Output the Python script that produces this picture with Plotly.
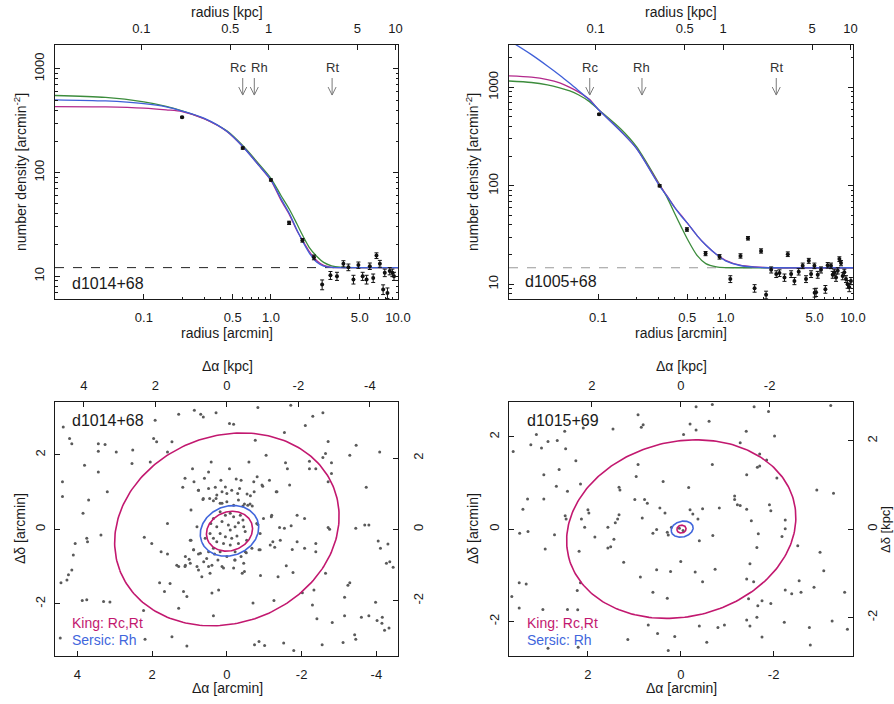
import numpy as np
import plotly.graph_objects as go

W, H = 894, 704
FONT = "Liberation Sans, Arial, Helvetica, sans-serif"
INK = "#1a1a1a"

# ---------------- data: radial profiles (radius arcmin, density arcmin^-2, error) ----------------
tl_name = "d1014+68"
tl_profile = [(0.20, 342, 6), (0.60, 172, 4), (1.00, 84.8, 2), (1.39, 32.7, 1.2), (1.77, 22.2, 0.9),
              (2.18, 15.2, 0.8), (2.53, 8.3, 0.9), (2.94, 10.2, 0.9), (3.31, 10.0, 0.9), (3.72, 13.2, 0.9),
              (4.07, 12.2, 0.9), (4.46, 9.3, 0.9), (4.88, 12.8, 0.9), (5.27, 10.0, 0.9), (5.66, 9.3, 0.9),
              (6.00, 12.5, 0.9), (6.38, 9.6, 0.9), (6.77, 15.8, 1.0), (7.20, 13.2, 1.0), (7.64, 7.45, 0.8),
              (7.87, 10.8, 0.9), (8.26, 6.9, 0.8), (8.61, 11.2, 0.9), (9.03, 10.8, 0.9), (9.30, 10.0, 0.9)]
tl_bg = 12.1
tl_curve_r = [0.02, 0.05, 0.1, 0.15, 0.2, 0.3, 0.45, 0.6, 0.8, 1.0, 1.2, 1.4, 1.6, 1.8, 2.0, 2.3, 2.6, 3.0, 3.5, 5.0, 10.0]
tl_king = [433, 430, 418, 402, 387, 329, 249, 178, 118, 84, 54, 39, 27.6, 21.5, 17.4, 14.1, 12.7, 12.15, 12.1, 12.1, 12.1]
tl_sersic = [503, 490, 462, 430, 392, 333, 250, 178, 118, 85, 56, 40, 28, 21, 16.8, 13.6, 12.5, 12.15, 12.1, 12.1, 12.1]
tl_plummer = [553, 530, 480, 435, 394, 330, 252, 182, 122, 88, 60, 44, 32, 24, 19, 15.5, 13.6, 12.6, 12.2, 12.1, 12.1]
# (label, radius of the arrow, radius where the label is centred)
tl_marks = [("Rc", 0.60, 0.55), ("Rh", 0.74, 0.82), ("Rt", 3.03, 3.03)]

tr_name = "d1005+68"
tr_profile = [(0.1018, 533, 10), (0.304, 100, 2.5), (0.498, 36, 1.5), (0.697, 20.5, 1.0), (0.897, 19.0, 1.0),
              (1.09, 11.3, 0.9), (1.31, 19.4, 1.0), (1.50, 29.3, 1.2), (1.69, 9.1, 0.8), (1.90, 21.8, 1.1),
              (2.08, 7.8, 0.7), (2.28, 14.0, 1.0), (2.50, 12.7, 1.0), (2.65, 13.0, 1.0), (2.90, 11.7, 1.0),
              (3.08, 20.2, 1.1), (3.27, 12.7, 1.0), (3.47, 10.8, 0.9), (3.75, 13.4, 1.0), (4.03, 15.4, 1.0),
              (4.28, 11.3, 0.9), (4.50, 17.3, 1.0), (4.69, 12.7, 1.0), (4.98, 15.4, 1.0), (5.00, 8.2, 0.8),
              (5.13, 8.3, 0.8), (5.29, 12.5, 1.0), (5.61, 14.0, 1.0), (6.07, 8.9, 0.8), (6.33, 15.6, 1.0),
              (6.72, 15.4, 1.0), (6.93, 12.5, 1.0), (7.14, 13.2, 1.0), (7.36, 11.7, 1.0), (7.59, 13.7, 1.0),
              (7.82, 18.0, 1.0), (8.05, 16.4, 1.0), (8.30, 12.1, 1.0), (8.55, 13.2, 1.0), (8.81, 11.3, 0.9),
              (9.07, 10.0, 0.9), (9.35, 9.3, 0.9), (9.63, 10.8, 0.9)]
tr_bg = 14.7
tr_curve_r = [0.02, 0.03, 0.04, 0.05, 0.06, 0.07, 0.085, 0.1, 0.15, 0.2, 0.3, 0.35, 0.4, 0.45, 0.5, 0.6, 0.7, 0.85, 1.0, 1.3, 1.7, 2.5, 10.0]
tr_king = [1310, 1270, 1200, 1110, 1000, 900, 760, 600, 360, 240, 104, 78, 60, 50, 42, 31, 25, 20, 17.5, 15.6, 15.0, 14.7, 14.7]
tr_sersic = [3000, 2150, 1650, 1330, 1100, 930, 750, 600, 360, 240, 102, 77, 60, 49, 42, 31, 25, 20, 17.3, 15.5, 14.9, 14.7, 14.7]
tr_plummer = [1160, 1120, 1060, 990, 920, 840, 720, 600, 380, 250, 106, 75, 52, 38, 29, 19.5, 16.2, 15.0, 14.75, 14.7, 14.7, 14.7, 14.7]
tr_marks = [("Rc", 0.086, 0.086), ("Rh", 0.221, 0.221), ("Rt", 2.50, 2.50)]

KPC_PER_ARCMIN = 1.045

# ---------------- data: star maps (delta alpha, delta delta in arcmin) ----------------
bl_name = "d1014+68"
bl_stars = [
    (1.92, 2.93), (1.29, 3.09), (0.87, 3.20), (0.70, 3.09), (0.63, 3.02), (0.29, 3.13), (4.38, 2.75), (4.21, 2.44),
    (4.15, 2.30), (3.44, 2.30), (3.26, 2.28), (3.44, 2.10), (2.96, 2.08), (2.52, 2.13), (1.96, 2.44), (1.88, 2.35),
    (4.40, 1.28), (4.40, 0.88), (3.81, 1.72), (3.44, 1.54), (3.20, 1.01), (2.54, 1.77), (2.05, 1.81), (1.59, 2.08),
    (1.12, 1.37), (1.18, 1.13), (0.92, 1.63), (0.88, 1.28), (0.76, 1.05), (0.60, 1.37), (0.49, 1.54), (0.42, 1.81),
    (0.31, 1.13), (0.16, 1.32), (0.04, 1.14), (0.64, 0.80), (0.46, 0.83), (0.29, 0.83), (0.13, 0.70), (0.96, 0.52),
    (1.59, 0.16), (2.21, -0.21), (2.01, -0.38), (4.06, -0.38), (3.75, -0.24), (3.73, -0.33), (3.37, -0.15),
    (4.11, -0.69), (4.15, -1.09), (4.24, -1.22), (4.44, -1.43), (4.28, -1.36), (1.76, -0.60), (1.59, -0.66),
    (1.34, -0.96), (1.29, -1.00), (1.12, -1.00), (1.01, -0.80), (0.96, -0.29), (0.89, -0.55), (0.76, -0.66),
    (0.76, -1.09), (0.67, -1.27), (0.54, -0.78), (0.49, -1.00), (0.45, -1.18), (0.33, -0.66), (0.24, -0.82),
    (0.13, -1.00), (1.80, -1.43), (1.67, -1.67), (1.52, -1.45), (1.16, -1.67), (1.07, -1.80), (0.40, -1.71),
    (0.22, -1.63), (3.87, -1.91), (3.75, -1.89), (3.30, -1.94), (3.13, -1.95), (2.23, -2.18), (1.29, -2.12),
    (0.36, -2.32), (2.19, -2.95), (1.47, -2.88), (1.07, -3.13), (4.46, -2.92), (3.85, 0.43), (3.70, 0.79),
    (1.47, 2.35),
    (-0.83, 3.27), (-1.71, 3.33), (-2.57, 3.13), (-2.30, 3.04), (-2.10, 2.79), (-0.07, 2.84), (-0.18, 2.82),
    (-1.54, 2.60), (-0.76, 2.39), (-2.71, 2.36), (-3.46, 2.26), (-4.09, 2.08), (-3.29, 1.99), (-2.64, 2.04),
    (-2.57, 1.93), (-2.80, 1.79), (-1.05, 1.99), (-1.57, 1.79), (-1.62, 1.63), (-2.21, 1.83), (-2.21, 1.63),
    (-2.38, 1.63), (-2.80, 1.50), (-2.71, 1.28), (-0.59, 1.81), (-0.07, 1.63), (-0.81, 1.41), (-0.72, 1.28),
    (-1.14, 1.32), (-0.38, 1.32), (-0.25, 1.35), (-0.96, 1.16), (-1.32, 1.01), (-1.68, 1.19), (-3.73, 1.13),
    (-0.63, 0.90), (-0.29, 0.96), (-0.43, 0.63), (-0.56, 0.65), (-0.68, 0.63), (-0.98, 0.29), (-1.19, 0.34),
    (-1.88, 0.38), (-2.08, 0.29), (-0.83, 0.13), (-1.41, 0.05), (-1.54, 0.03), (-1.72, 0.10), (-2.71, 0.05),
    (-2.75, 0.00), (-3.45, 0.03), (-3.69, 0.12), (-3.80, 0.12), (-1.23, -0.33), (-1.43, -0.29), (-1.28, -0.48),
    (-1.88, -0.33), (-2.08, -0.51), (-1.75, -0.54), (-2.38, -0.38), (-2.38, -0.60), (-0.86, -0.55), (-0.52, -0.63),
    (-0.38, -0.73), (-0.21, -0.82), (-0.47, -1.13), (-0.41, -1.18), (-0.90, -1.24), (-1.37, -1.27), (-1.59, -0.98),
    (-1.77, -1.16), (-2.64, -1.18), (-4.05, -0.31), (-4.11, -0.51), (-4.31, -0.39), (-4.36, -0.87), (-4.27, -0.91),
    (-4.45, -1.02), (-3.29, -1.43), (-3.24, -1.50), (-2.02, -1.70), (-2.33, -1.63), (-3.15, -1.82), (-1.26, -1.91),
    (-0.70, -1.98), (-2.29, -2.03), (-3.98, -1.96), (-3.15, -2.32), (-3.60, -2.36), (-3.80, -2.32), (-4.02, -2.45),
    (-4.16, -2.36), (-4.15, -2.52), (-4.34, -2.65), (-4.22, -2.71), (-2.41, -2.40), (-2.82, -2.50), (-3.42, -2.83),
    (-3.45, -2.95), (-3.11, -3.04), (-2.55, -3.10), (-1.52, -3.05), (-1.79, -3.25), (-0.86, -3.01), (-0.74, -3.10),
    (-1.01, -3.12),
    (0.76, 1.05), (0.49, 1.10), (0.27, 0.92), (0.13, 1.01), (0.00, 0.96), (-0.13, 1.05), (-0.34, 1.10),
    (-0.54, 0.95), (-0.73, 1.01), (-0.94, 1.19), (-1.34, 1.01), (0.63, 0.83), (0.36, 0.77), (0.18, 0.70),
    (0.00, 0.74), (-0.18, 0.65), (-0.31, 0.79), (-0.47, 0.68), (-0.62, 0.68), (0.18, 0.47), (0.04, 0.38),
    (-0.09, 0.43), (-0.18, 0.34), (-0.36, 0.38), (-0.43, 0.25), (0.36, 0.29), (0.43, 0.16), (0.27, 0.07),
    (0.13, 0.21), (-0.04, 0.12), (-0.09, -0.02), (-0.22, 0.07), (-0.31, 0.18), (-0.45, 0.07), (-0.49, -0.06),
    (0.18, -0.11), (0.04, -0.20), (-0.13, -0.24), (-0.27, -0.18), (0.36, -0.24), (0.45, -0.11), (0.27, -0.33),
    (0.09, -0.38), (-0.09, -0.42), (-0.31, -0.38), (-0.53, -0.29), (-0.80, 0.16), (-0.89, -0.11), (0.58, -0.24),
    (0.80, 0.07), (0.98, -0.29), (0.89, -0.55), (0.71, -0.64), (0.49, -0.60), (0.36, -0.51), (0.18, -0.60),
    (0.00, -0.73), (-0.22, -0.60), (-0.49, -0.60), (-0.67, -0.51), (-0.89, -0.55), (-1.16, -0.42), (-1.20, 0.38),
    (1.11, -0.73), (0.98, -0.91), (0.80, -1.00), (0.62, -0.87), (0.40, -0.96), (-0.22, -0.82), (-0.45, -0.91),
    (-0.18, -1.04), (0.09, -1.04), (1.11, -0.96),
]
bl_king_rt = (0.0, 0.0, 3.07, 2.51, -21)      # centre da, centre dd, semi-major, semi-minor, angle (deg)
bl_king_rc = (-0.07, -0.05, 0.63, 0.52, -21)
bl_sersic_rh = (-0.07, -0.04, 0.80, 0.66, -22)

br_name = "d1015+69"
br_stars = [
    (0.92, 2.48), (0.81, 2.26), (0.85, 2.21), (1.46, 2.17), (2.10, 2.19), (2.50, 2.12), (3.11, 2.05), (2.86, 1.90),
    (2.66, 1.92), (3.00, 1.76), (3.23, 1.83), (2.48, 1.74), (3.61, 1.68), (2.26, 1.48), (2.62, 1.29), (2.95, 1.18),
    (0.92, 1.40), (0.96, 1.14), (2.16, 0.98), (2.68, 0.93), (2.44, 0.82), (1.33, 0.91), (1.31, 0.85), (0.38, 1.03),
    (3.30, 0.65), (2.95, 0.65), (3.40, 0.43), (2.00, 0.42), (1.98, 0.35), (0.99, 0.64), (0.78, 0.64), (0.72, 0.56),
    (0.45, 0.46), (0.34, 0.35), (2.49, 0.29), (2.47, 0.22), (2.14, 0.22), (2.07, 0.04), (1.33, 0.31), (1.36, 0.22),
    (1.41, 0.14), (1.57, 0.04), (0.83, 0.24), (3.47, -0.09), (3.29, -0.05), (2.72, -0.12), (1.85, -0.17),
    (1.44, -0.22), (1.57, -0.41), (1.51, -0.38), (0.60, -0.09), (0.52, -0.01), (2.92, -0.43), (2.19, -0.48),
    (1.23, -0.72), (0.52, -0.88), (0.87, -1.04), (0.22, -0.92), (3.48, -1.16), (3.33, -1.19), (2.16, -1.16),
    (2.23, -1.33), (0.60, -1.37), (0.29, -1.50), (3.64, -1.46), (3.48, -1.71), (2.97, -1.74), (2.44, -1.74),
    (2.22, -1.75), (0.70, -2.08), (0.50, -2.26), (1.14, -2.39), (0.13, -2.33), (2.21, -2.56), (2.86, -2.58),
    (0.27, -2.63), (0.29, -0.07), (0.20, 0.04), (0.27, -0.13), (0.03, 0.02), (-0.05, -0.03),
    (-0.33, 2.65), (-0.68, 2.70), (-1.58, 2.65), (-1.89, 2.55), (-3.23, 2.68), (-0.20, 2.28), (-0.33, 2.15),
    (-0.61, 2.34), (-0.06, 2.05), (-1.41, 2.12), (-2.02, 2.02), (-1.28, 1.87), (-1.70, 1.63), (-1.85, 1.50),
    (-1.65, 1.34), (-1.70, 1.37), (-0.68, 1.40), (-1.42, 1.18), (-2.07, 1.11), (-0.17, 0.90), (-2.93, 0.85),
    (-3.29, 0.78), (-1.16, 0.72), (-1.16, 0.64), (-1.22, 0.53), (-1.28, 0.51), (-1.42, 0.43), (-1.91, 0.53),
    (-1.94, 0.40), (-0.83, 0.46), (-0.47, 0.44), (-0.20, 0.42), (-0.26, 0.33), (-0.37, 0.22), (-1.52, 0.18),
    (-2.25, 0.20), (-2.25, 0.01), (-2.18, -0.16), (-1.67, -0.10), (-0.69, -0.14), (-0.40, -0.25), (-1.64, -0.40),
    (-2.52, -0.36), (-3.00, -0.50), (-3.08, -0.90), (0.00, -0.70), (-0.31, -0.93), (-0.74, -0.87), (-1.49, -0.75),
    (-0.47, -1.14), (-1.42, -1.08), (-1.57, -1.14), (-2.25, -1.32), (-2.39, -1.40), (-2.55, -1.12), (-2.59, -1.37),
    (-2.87, -1.26), (-3.53, -1.37), (-1.46, -1.51), (-1.75, -1.55), (-1.94, -1.61), (-1.66, -1.66), (-1.64, -1.91),
    (-1.42, -1.97), (-1.49, -2.10), (-2.23, -2.02), (-2.77, -2.13), (-3.26, -1.99), (-3.59, -2.17), (-0.40, -2.10),
    (-0.80, -2.13), (-0.94, -2.08), (-1.75, -2.34), (-0.56, -2.45), (-2.79, -2.51),
]
br_king_rt = (-0.01, 0.0, 2.50, 1.895, -14)
br_king_rc = (-0.015, 0.0, 0.10, 0.085, -14)
br_sersic_rh = (-0.03, 0.0, 0.24, 0.17, -14)

# ---------------- styles ----------------
C_KING_P = "#b3298c"
C_SERSIC_P = "#3f5fd8"
C_PLUM_P = "#3c8c3c"
C_KING = "#c2186f"
C_SERSIC = "#4166dc"
C_STAR = "#5a5a5a"


def dom_x(l, r):
    return [l / W, r / W]


def dom_y(t, b):
    return [1 - b / H, 1 - t / H]


LX, RX = dom_x(55, 398), dom_x(509, 853)
TOPY, BOTY = dom_y(45, 299), dom_y(402, 656)


def ax(**kw):
    d = dict(showline=True, linecolor=INK, linewidth=1, showgrid=False, zeroline=False,
             ticks="inside", ticklen=5, tickwidth=1, tickcolor=INK, automargin=False,
             tickfont=dict(family=FONT, size=13, color=INK), fixedrange=True)
    d.update(kw)
    return d


minor_x = dict(tickvals=[0.2, 0.3, 0.4, 0.6, 0.7, 0.8, 0.9, 2, 3, 4, 6, 7, 8, 9],
               ticks="inside", ticklen=2.5, tickwidth=1, tickcolor=INK, showgrid=False)
minor_y = dict(tickvals=[7, 8, 9, 20, 30, 40, 50, 60, 70, 80, 90, 200, 300, 400, 500, 600, 700, 800, 900, 2000],
               ticks="inside", ticklen=2.5, tickwidth=1, tickcolor=INK, showgrid=False)

rng_x = [np.log10(0.02), 1.0]
kshift = np.log10(KPC_PER_ARCMIN)
rng_xk = [rng_x[0] + kshift, rng_x[1] + kshift]
xt_val = [0.1, 0.5, 1, 5, 10]
xt_bot = ["0.1", "0.5", "1.0", "5.0", "10.0"]
xt_top = ["0.1", "0.5", "1", "5", "10"]

bl_rx = [4.60, -4.58]
bl_ry = [-3.40, 3.42]
br_rx = [3.70, -3.71]
br_ry = [-2.75, 2.755]

layout = dict(
    width=W, height=H, autosize=False, margin=dict(l=0, r=0, t=0, b=0, pad=0),
    paper_bgcolor="white", plot_bgcolor="white", showlegend=False,
    # top-left profile
    xaxis=ax(type="log", domain=LX, anchor="y", range=rng_x, tickvals=xt_val, ticktext=xt_bot,
             minor=minor_x, ticklabelstandoff=6),
    xaxis2=ax(type="log", overlaying="x", side="top", anchor="y", range=rng_xk, tickvals=xt_val,
              ticktext=xt_top, ticklabelstandoff=6),
    yaxis=ax(type="log", domain=TOPY, anchor="x", range=[0.78, 3.23], tickvals=[10, 100, 1000],
             ticktext=["10", "100", "1000"], tickangle=-90, mirror="ticks", minor=minor_y, ticklabelstandoff=5),
    # top-right profile
    xaxis3=ax(type="log", domain=RX, anchor="y2", range=rng_x, tickvals=xt_val, ticktext=xt_bot,
              minor=minor_x, ticklabelstandoff=6),
    xaxis4=ax(type="log", overlaying="x3", side="top", anchor="y2", range=rng_xk, tickvals=xt_val,
              ticktext=xt_top, ticklabelstandoff=6),
    yaxis2=ax(type="log", domain=TOPY, anchor="x3", range=[0.85, 3.43], tickvals=[10, 100, 1000],
              ticktext=["10", "100", "1000"], tickangle=-90, mirror="ticks", minor=minor_y, ticklabelstandoff=5),
    # bottom-left map
    xaxis5=ax(domain=LX, anchor="y3", range=bl_rx, tickvals=[4, 2, 0, -2, -4],
              ticktext=["4", "2", "0", "-2", "-4"], ticklabelstandoff=6),
    xaxis6=ax(overlaying="x5", side="top", anchor="y3", range=[v * KPC_PER_ARCMIN for v in bl_rx],
              tickvals=[4, 2, 0, -2, -4], ticktext=["4", "2", "0", "-2", "-4"], ticklabelstandoff=6),
    yaxis3=ax(domain=BOTY, anchor="x5", range=bl_ry, tickvals=[-2, 0, 2], ticktext=["-2", "0", "2"],
              tickangle=-90, ticklabelstandoff=4),
    yaxis4=ax(overlaying="y3", side="right", anchor="x5", range=[v * KPC_PER_ARCMIN for v in bl_ry],
              tickvals=[-2, 0, 2], ticktext=["-2", "0", "2"], tickangle=-90, ticklabelstandoff=8),
    # bottom-right map
    xaxis7=ax(domain=RX, anchor="y5", range=br_rx, tickvals=[2, 0, -2], ticktext=["2", "0", "-2"],
              ticklabelstandoff=6),
    xaxis8=ax(overlaying="x7", side="top", anchor="y5", range=[v * KPC_PER_ARCMIN for v in br_rx],
              tickvals=[2, 0, -2], ticktext=["2", "0", "-2"], ticklabelstandoff=6),
    yaxis5=ax(domain=BOTY, anchor="x7", range=br_ry, tickvals=[-2, 0, 2], ticktext=["-2", "0", "2"],
              tickangle=-90, ticklabelstandoff=4),
    yaxis6=ax(overlaying="y5", side="right", anchor="x7", range=[v * KPC_PER_ARCMIN for v in br_ry],
              tickvals=[-2, 0, 2], ticktext=["-2", "0", "2"], tickangle=-90, ticklabelstandoff=7),
)

fig = go.Figure()


def dummy(xa, ya, x, y):
    fig.add_trace(go.Scatter(x=[x], y=[y], xaxis=xa, yaxis=ya, mode="markers",
                             marker=dict(opacity=0, size=1), hoverinfo="skip", showlegend=False))


def profile_panel(xa, ya, profile, bg, bg_color, cr, king, sersic, plummer):
    fig.add_trace(go.Scatter(x=[0.02, 10], y=[bg, bg], xaxis=xa, yaxis=ya, mode="lines",
                             line=dict(color=bg_color, width=1, dash="dash"), hoverinfo="skip"))
    for vals, col in ((plummer, C_PLUM_P), (king, C_KING_P), (sersic, C_SERSIC_P)):
        fig.add_trace(go.Scatter(x=cr, y=vals, xaxis=xa, yaxis=ya, mode="lines",
                                 line=dict(color=col, width=1.3, shape="spline", smoothing=0.8)))
    r = [p[0] for p in profile]
    n = [p[1] for p in profile]
    e = [p[2] for p in profile]
    fig.add_trace(go.Scatter(x=r, y=n, xaxis=xa, yaxis=ya, mode="markers",
                             marker=dict(color="#111", size=4),
                             error_y=dict(type="data", array=e, color="#111", thickness=1, width=2)))


profile_panel("x", "y", tl_profile, tl_bg, "#222", tl_curve_r, tl_king, tl_sersic, tl_plummer)
profile_panel("x3", "y2", tr_profile, tr_bg, "#999", tr_curve_r, tr_king, tr_sersic, tr_plummer)
dummy("x2", "y", 1, 100)
dummy("x4", "y2", 1, 100)


def ellipse(xa, ya, par, col):
    cx, cy, a, b, ang = par
    t = np.linspace(0, 2 * np.pi, 241)
    th = np.radians(ang)
    x = cx + a * np.cos(th) * np.cos(t) - b * np.sin(th) * np.sin(t)
    y = cy + a * np.sin(th) * np.cos(t) + b * np.cos(th) * np.sin(t)
    fig.add_trace(go.Scatter(x=x, y=y, xaxis=xa, yaxis=ya, mode="lines",
                             line=dict(color=col, width=1.6), hoverinfo="skip"))


def map_panel(xa, ya, stars, king_rt, king_rc, sersic_rh):
    fig.add_trace(go.Scatter(x=[s[0] for s in stars], y=[s[1] for s in stars], xaxis=xa, yaxis=ya,
                             mode="markers", marker=dict(color=C_STAR, size=3)))
    ellipse(xa, ya, king_rt, C_KING)
    ellipse(xa, ya, sersic_rh, C_SERSIC)
    ellipse(xa, ya, king_rc, C_KING)


map_panel("x5", "y3", bl_stars, bl_king_rt, bl_king_rc, bl_sersic_rh)
map_panel("x7", "y5", br_stars, br_king_rt, br_king_rc, br_sersic_rh)
dummy("x6", "y3", 0, 0)
dummy("x5", "y4", 0, 0)
dummy("x8", "y5", 0, 0)
dummy("x7", "y6", 0, 0)

annotations = []
shapes = []


def txt(px, py, text, size=14, angle=0, color=INK, xanchor="center"):
    annotations.append(dict(x=px / W, y=1 - py / H, xref="paper", yref="paper", text=text, showarrow=False,
                            textangle=angle, xanchor=xanchor, yanchor="middle",
                            font=dict(family=FONT, size=size, color=color)))


def marks(xref, yref, items):
    # arrow tip / tail in fractions of the panel height; arm size in decades of radius
    tip, tail, d = 0.803, 0.870, 0.0315
    f = 10 ** d
    for lab, r, rl in items:
        line = dict(color="#7a7a7a", width=1)
        for x0, y0 in ((r, tail), (r / f, tip + d), (r * f, tip + d)):
            shapes.append(dict(type="line", xref=xref, yref=yref + " domain", x0=x0, y0=y0, x1=r, y1=tip,
                               line=line))
        annotations.append(dict(x=float(np.log10(rl)), y=0.913, xref=xref, yref=yref + " domain", text=lab,
                                showarrow=False, xanchor="center", yanchor="middle",
                                font=dict(family=FONT, size=13, color="#333")))


marks("x", "y", tl_marks)
marks("x3", "y2", tr_marks)

# axis titles
for cx in (227, 681):
    txt(cx, 12, "radius [kpc]")
    txt(cx, 333, "radius [arcmin]")
    txt(cx, 366, "Δα [kpc]")
    txt(cx, 688, "Δα [arcmin]")
txt(20, 172, "number density [arcmin<sup>-2</sup>]", angle=-90)
txt(472, 172, "number density [arcmin<sup>-2</sup>]", angle=-90)
txt(20, 529, "Δδ [arcmin]", angle=-90)
txt(473, 529, "Δδ [arcmin]", angle=-90)
txt(885, 530, "Δδ [kpc]", size=13, angle=-90)

# panel names
txt(70, 283, tl_name, size=16, xanchor="left")
txt(523, 281, tr_name, size=16, xanchor="left")
txt(70, 420, bl_name, size=16, xanchor="left")
txt(525, 420, br_name, size=16, xanchor="left")

# map legends
for lx in (70, 525):
    txt(lx, 623, "King: Rc,Rt", size=14, color=C_KING, xanchor="left")
    txt(lx, 640, "Sersic: Rh", size=14, color=C_SERSIC, xanchor="left")

layout["annotations"] = annotations
layout["shapes"] = shapes
fig.update_layout(**layout)
fig.write_html(
    "out.html",
    config={"responsive": False, "displayModeBar": False},
    post_script="document.body.style.margin='0';document.body.style.overflow='hidden';",
)
